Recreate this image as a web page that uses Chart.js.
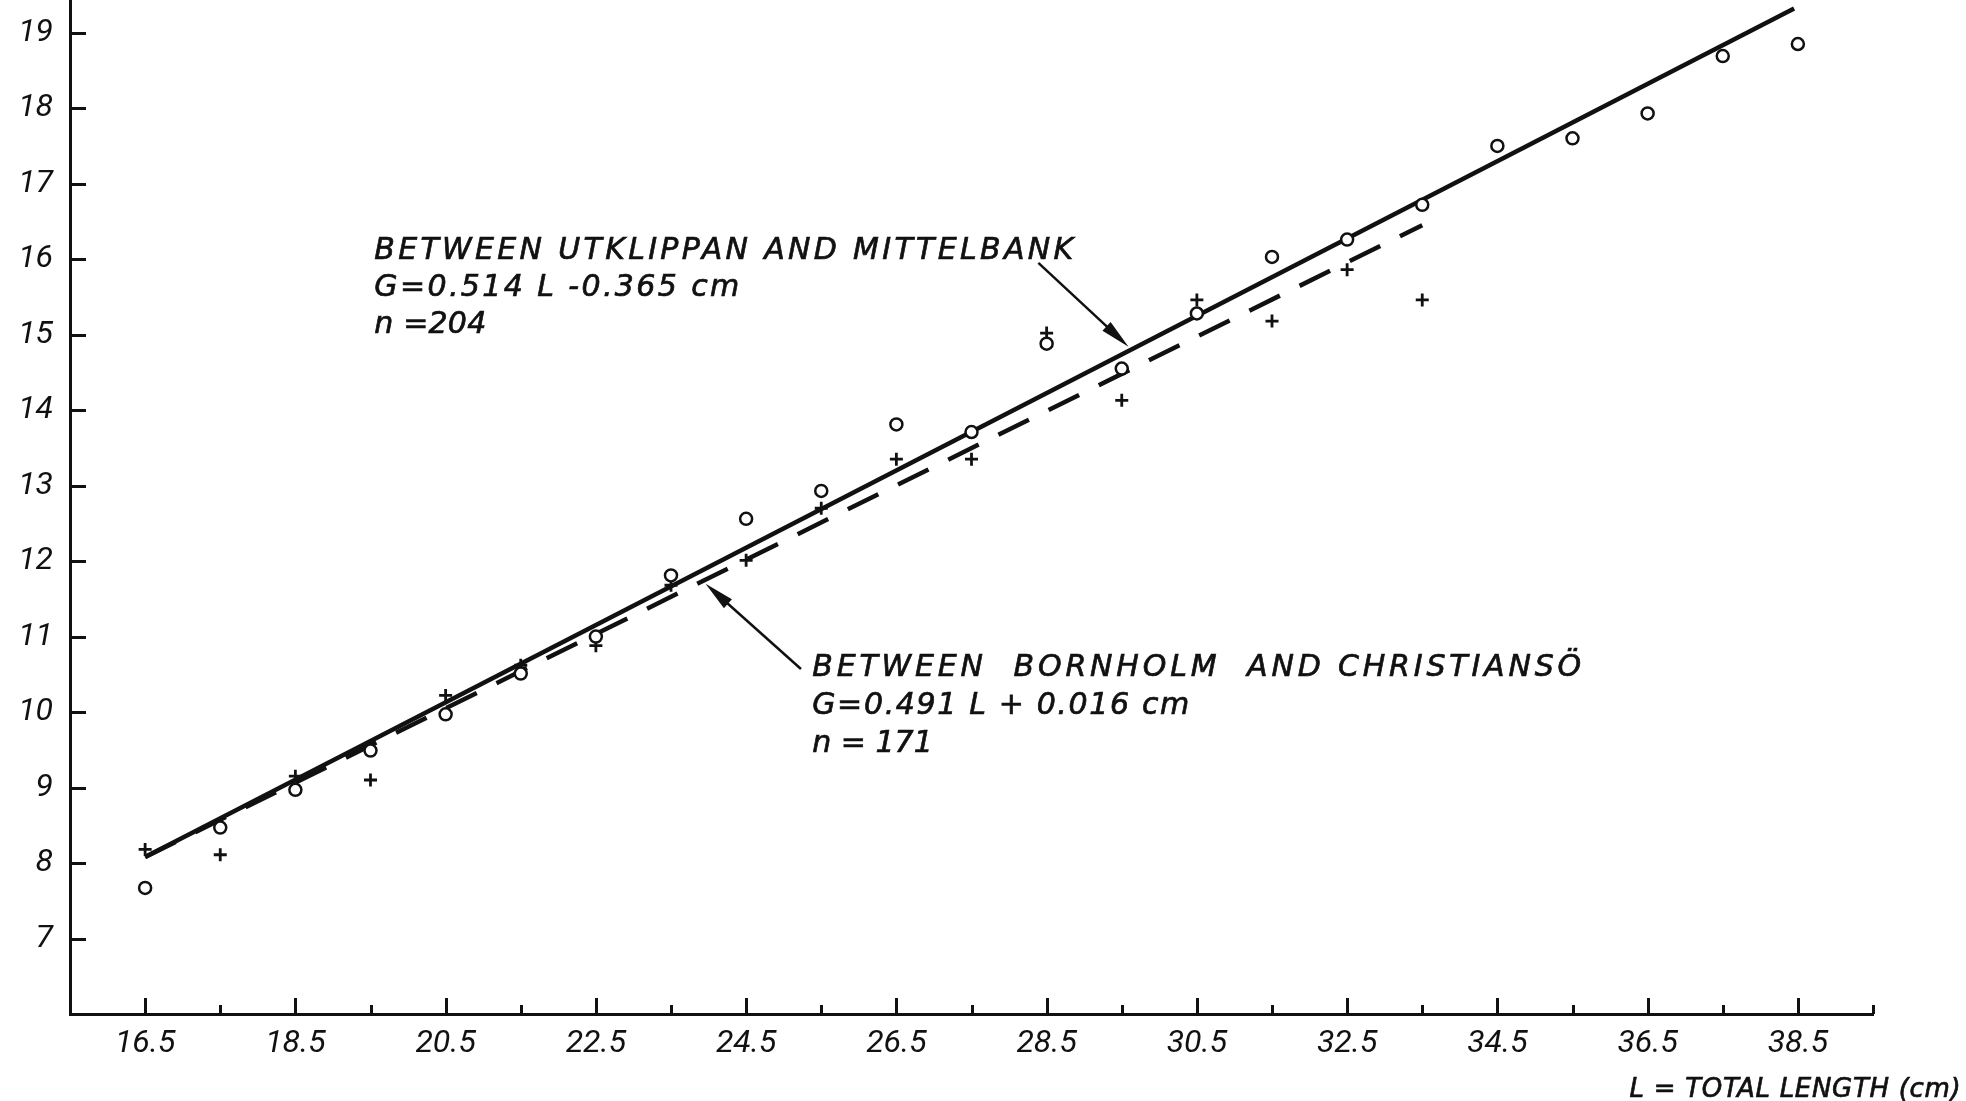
<!DOCTYPE html>
<html lang="en">
<head>
<meta charset="UTF-8">
<title>Girth against total length</title>
<script src="https://cdn.jsdelivr.net/npm/chart.js"></script>
<style>
  html, body { margin: 0; padding: 0; background: #fff; overflow: hidden; }
  canvas { display: block; }
</style>
</head>
<body>
<canvas id="girthChart" width="1966" height="1101"></canvas>
<script>
// length classes (L, cm)
const lengthClasses = [16.5, 17.5, 18.5, 19.5, 20.5, 21.5, 22.5, 23.5, 24.5, 25.5, 26.5, 27.5,
                       28.5, 29.5, 30.5, 31.5, 32.5, 33.5, 34.5, 35.5, 36.5, 37.5, 38.5];
// mean girth G (cm), circles: between Utklippan and Mittelbank
const girthUtklippan = [7.67, 8.47, 8.97, 9.49, 9.97, 10.51, 11.0, 11.81, 12.56, 12.93, 13.81, 13.71,
                        14.88, 14.55, 15.28, 16.03, 16.26, 16.72, 17.50, 17.60, 17.93, 18.69, 18.85];
// crosses: between Bornholm and Christiansö (only up to 33.5 cm)
const girthBornholm = [8.18, 8.11, 9.15, 9.10, 10.22, 10.62, 10.88, 11.68, 12.01, 12.70, 13.35, 13.35,
                       15.02, 14.13, 15.46, 15.18, 15.86, 15.46];
// regression lines, end points as drawn
const lineUtklippanX = [16.5, 38.45];
const lineUtklippanY = [8.08, 19.32];
const lineBornholmX = [16.5, 33.5];
const lineBornholmY = [8.08, 16.45];
// axis ticks
const xTickValues = [16.5, 17.5, 18.5, 19.5, 20.5, 21.5, 22.5, 23.5, 24.5, 25.5, 26.5, 27.5,
                     28.5, 29.5, 30.5, 31.5, 32.5, 33.5, 34.5, 35.5, 36.5, 37.5, 38.5, 39.5];
const xTickLabels = ['16.5', '18.5', '20.5', '22.5', '24.5', '26.5', '28.5', '30.5', '32.5', '34.5', '36.5', '38.5'];
const yTickValues = [7, 8, 9, 10, 11, 12, 13, 14, 15, 16, 17, 18, 19];

const ink = '#111';
const TICK_FONT = 'Roboto, "DejaVu Sans", sans-serif';
const NOTE_FONT = '"DejaVu Sans", sans-serif';

// text notes and arrows (anchors in data units, width = text width to spread letters over)
const notes = [
    { at: [19.55, 16.0], gap: 37, lines: [
        ['BETWEEN UTKLIPPAN AND MITTELBANK', 699],
        ['G=0.514 L -0.365 cm', 365],
        ['n =204', 112]] },
    { at: [25.38, 10.48], gap: 38, lines: [
        ['BETWEEN  BORNHOLM  AND CHRISTIANSÖ', 769],
        ['G=0.491 L + 0.016 cm', 377],
        ['n = 171', 105]] }
];
const arrows = [
    { from: [28.39, 15.95], to: [29.59, 14.84] },
    { from: [25.23, 10.57], to: [23.96, 11.70] }
];

function spacedText(ctx, text, x, y, width) {
    ctx.letterSpacing = '0px';
    const w = ctx.measureText(text).width;
    const n = [...text].length;
    const sp = Math.max(0, (width - w) / (n - 1));
    ctx.letterSpacing = sp.toFixed(2) + 'px';
    ctx.fillText(text, x, y);
    ctx.strokeText(text, x, y);
    ctx.letterSpacing = '0px';
}

function arrow(ctx, x0, y0, x1, y1) {
    const a = Math.atan2(y1 - y0, x1 - x0);
    const head = 30, half = 6;
    const c = Math.cos(a), s = Math.sin(a);
    ctx.beginPath();
    ctx.moveTo(x0, y0);
    ctx.lineTo(x1 - head * 0.7 * c, y1 - head * 0.7 * s);
    ctx.stroke();
    ctx.beginPath();
    ctx.moveTo(x1, y1);
    ctx.lineTo(x1 - head * c + half * s, y1 - head * s - half * c);
    ctx.lineTo(x1 - head * c - half * s, y1 - head * s + half * c);
    ctx.closePath();
    ctx.fill();
}

const figureMarks = {
    id: 'figureMarks',
    afterDraw(chart) {
        const { ctx, chartArea, scales: { x, y } } = chart;
        ctx.save();
        ctx.strokeStyle = ink;
        ctx.fillStyle = ink;
        ctx.lineWidth = 3;

        // inward tick marks
        xTickValues.forEach(v => {
            const px = Math.round(x.getPixelForValue(v)) + 0.5;
            const len = xTickLabels.includes(v.toFixed(1)) ? 16 : 9;
            ctx.beginPath();
            ctx.moveTo(px, chartArea.bottom);
            ctx.lineTo(px, chartArea.bottom - len);
            ctx.stroke();
        });
        yTickValues.forEach(v => {
            const py = Math.round(y.getPixelForValue(v)) + 0.5;
            ctx.beginPath();
            ctx.moveTo(chartArea.left, py);
            ctx.lineTo(chartArea.left + 16, py);
            ctx.stroke();
        });

        ctx.lineWidth = 2.5;
        arrows.forEach(a => arrow(ctx,
            x.getPixelForValue(a.from[0]), y.getPixelForValue(a.from[1]),
            x.getPixelForValue(a.to[0]), y.getPixelForValue(a.to[1])));

        // notes
        ctx.font = 'oblique 30px ' + NOTE_FONT;
        ctx.textAlign = 'left';
        ctx.textBaseline = 'alphabetic';
        ctx.lineWidth = 0.7;
        notes.forEach(n => {
            const px = x.getPixelForValue(n.at[0]);
            const py = y.getPixelForValue(n.at[1]);
            n.lines.forEach((ln, i) => spacedText(ctx, ln[0], px, py + i * n.gap, ln[1]));
        });

        // axis title
        ctx.font = 'oblique 26px ' + NOTE_FONT;
        spacedText(ctx, 'L = TOTAL LENGTH (cm)', x.getPixelForValue(36.26), chartArea.bottom + 83, 331);
        ctx.restore();
    }
};

const tickFont = { family: TICK_FONT, size: 32, style: 'italic', weight: 'normal' };

new Chart(document.getElementById('girthChart'), {
    type: 'scatter',
    data: {
        datasets: [
            {
                label: 'Between Utklippan and Mittelbank',
                data: lengthClasses.map((l, i) => ({ x: l, y: girthUtklippan[i] })),
                pointStyle: 'circle',
                pointRadius: 6,
                pointBorderWidth: 2.5,
                pointBackgroundColor: '#fff',
                pointBorderColor: ink
            },
            {
                label: 'Between Bornholm and Christiansö',
                data: girthBornholm.map((g, i) => ({ x: lengthClasses[i], y: g })),
                pointStyle: 'cross',
                pointRadius: 6.5,
                pointBorderWidth: 2.8,
                pointBorderColor: ink
            },
            {
                label: 'G = 0.514 L - 0.365',
                data: lineUtklippanX.map((l, i) => ({ x: l, y: lineUtklippanY[i] })),
                showLine: true,
                borderColor: ink,
                borderWidth: 4.5,
                pointRadius: 0
            },
            {
                label: 'G = 0.491 L + 0.016',
                data: lineBornholmX.map((l, i) => ({ x: l, y: lineBornholmY[i] })),
                showLine: true,
                borderColor: ink,
                borderWidth: 4.5,
                borderDash: [34, 22],
                pointRadius: 0
            }
        ]
    },
    options: {
        responsive: false,
        animation: false,
        layout: { autoPadding: false, padding: { left: 0, top: 0, right: 93, bottom: 0 } },
        plugins: {
            legend: { display: false },
            tooltip: { enabled: false }
        },
        scales: {
            x: {
                type: 'linear',
                min: 15.5,
                max: 39.5,
                grid: { display: false, drawTicks: false },
                border: { display: true, width: 3, color: ink },
                afterBuildTicks: s => { s.ticks = xTickValues.map(v => ({ value: v })); },
                afterFit: s => { s.height = 87; s.paddingLeft = 0; s.paddingRight = 0; },
                ticks: {
                    autoSkip: false,
                    maxRotation: 0,
                    padding: 11,
                    color: ink,
                    font: tickFont,
                    callback: v => xTickLabels.includes(Number(v).toFixed(1)) ? Number(v).toFixed(1) : ''
                }
            },
            y: {
                type: 'linear',
                min: 6,
                max: 19.433,
                grid: { display: false, drawTicks: false },
                border: { display: true, width: 3, color: ink },
                afterBuildTicks: s => { s.ticks = yTickValues.map(v => ({ value: v })); },
                afterFit: s => { s.width = 70; s.paddingTop = 0; s.paddingBottom = 0; },
                ticks: {
                    padding: 17,
                    color: ink,
                    font: tickFont,
                    callback: v => String(v)
                }
            }
        }
    },
    plugins: [figureMarks]
});
</script>
</body>
</html>
